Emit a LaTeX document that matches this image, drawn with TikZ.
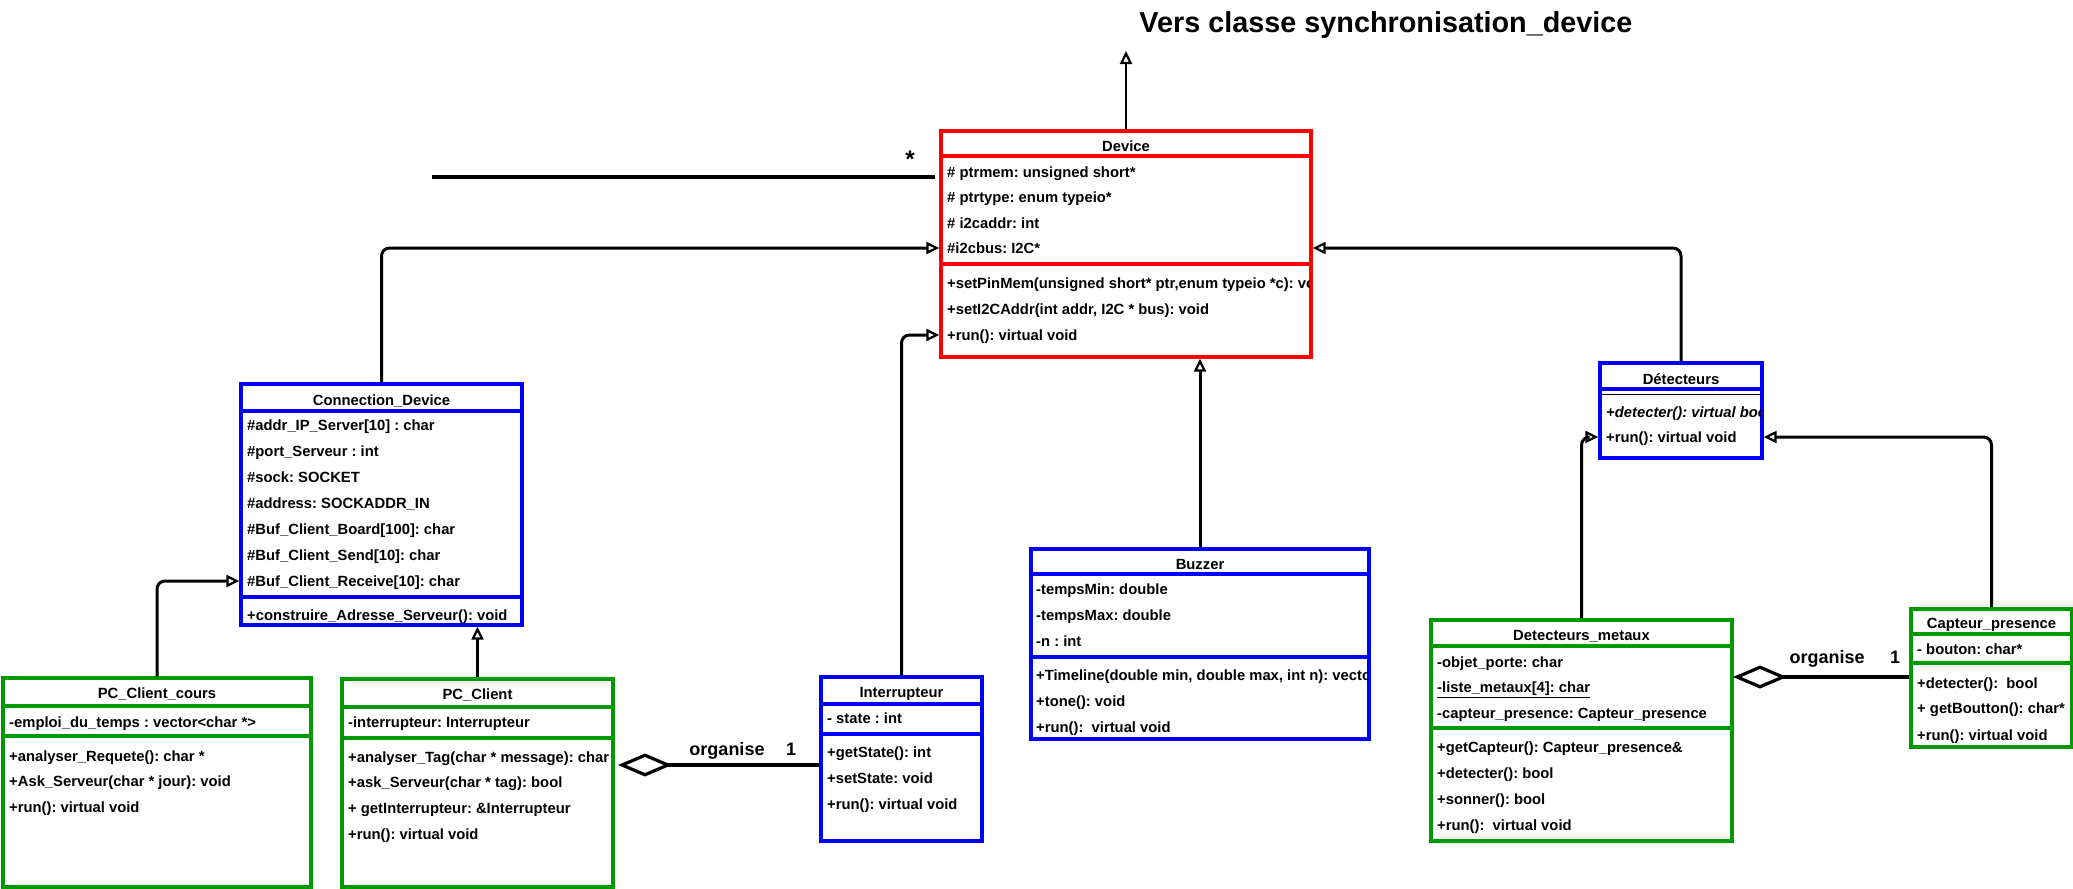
\documentclass[tikz,border=0pt]{standalone}
\usepackage{fontspec}
\setmainfont{Liberation Sans}
\usetikzlibrary{arrows.meta}
\definecolor{cred}{RGB}{255,0,0}
\definecolor{cblue}{RGB}{0,0,255}
\definecolor{cgreen}{RGB}{0,153,0}
\frenchspacing
\tikzset{
  clsbox/.style={draw=#1, line width=3.3pt, inner sep=0pt, fill=white},
  sepline/.style={draw=#1, line width=3.3pt},
  thinsep/.style={draw=black, line width=1pt},
  row/.style={anchor=west, inner sep=0pt, font=\fontsize{14.8}{16}\selectfont\bfseries, text height=10.6pt, text depth=0pt},
  head/.style={anchor=center, inner sep=0pt, font=\fontsize{14.8}{16}\selectfont\bfseries, text height=10.6pt, text depth=0pt},
  inh/.style={draw=black, line width=3pt, rounded corners=8pt, -{Triangle[open, length=13pt, width=12pt, line width=2.2pt]}},
  agg/.style={draw=black, line width=3.2pt, {Diamond[open, length=54pt, width=23pt, line width=3.2pt]}-},
  assoc/.style={draw=black, line width=3.2pt},
  lbl/.style={inner sep=0pt, anchor=base, font=\fontsize{18}{20}\selectfont\bfseries},
  titlestyle/.style={inner sep=0pt, font=\fontsize{28.8}{32}\selectfont\bfseries, text height=20.6pt, text depth=0pt},
}
\begin{document}
\begin{tikzpicture}[x=1pt,y=-1pt]
\useasboundingbox (0,0) rectangle (2073,889);
\fill[white] (0,0) rectangle (2073,889);

% title
\node[titlestyle] (title) at (1386,22) {Vers classe synchronisation\_device};

% ---------- Device ----------
\node[clsbox=cred, minimum width=370pt, minimum height=226pt] (device) at (1126,244) {};
\draw[sepline=cred] (941,156) -- (1311,156);
\draw[sepline=cred] (941,264) -- (1311,264);
\node[head] (devh) at (1126,146) {Device};
\node[row] (deva1) at (947,172) {\# ptrmem: unsigned short*};
\node[row] (deva2) at (947,197) {\# ptrtype: enum typeio*};
\node[row] (deva3) at (947,223) {\# i2caddr: int};
\node[row] (deva4) at (947,248) {\#i2cbus: I2C*};
\begin{scope}
\clip (941,266) rectangle (1309.3,300);
\node[row] (devm1) at (947,283) {+setPinMem(unsigned short* ptr,enum typeio *c): void};
\end{scope}
\node[row] (devm2) at (947,309) {+setI2CAddr(int addr, I2C * bus): void};
\node[row] (devm3) at (947,335) {+run(): virtual void};

% ---------- Connection_Device ----------
\node[clsbox=cblue, minimum width=281pt, minimum height=241pt] (conn) at (381.5,504.5) {};
\draw[sepline=cblue] (241,411) -- (522,411);
\draw[sepline=cblue] (241,597) -- (522,597);
\node[head] (connh) at (381.5,400) {Connection\_Device};
\node[row] (conna1) at (247,425) {\#addr\_IP\_Server[10] : char};
\node[row] (conna2) at (247,451) {\#port\_Serveur : int};
\node[row] (conna3) at (247,477) {\#sock: SOCKET};
\node[row] (conna4) at (247,503) {\#address: SOCKADDR\_IN};
\node[row] (conna5) at (247,529) {\#Buf\_Client\_Board[100]: char};
\node[row] (conna6) at (247,555) {\#Buf\_Client\_Send[10]: char};
\node[row] (conna7) at (247,581) {\#Buf\_Client\_Receive[10]: char};
\node[row] (connm1) at (247,615) {+construire\_Adresse\_Serveur(): void};

% ---------- PC_Client_cours ----------
\node[clsbox=cgreen, minimum width=308pt, minimum height=209pt] (pccours) at (157,782.5) {};
\draw[sepline=cgreen] (3,706) -- (311,706);
\draw[sepline=cgreen] (3,736) -- (311,736);
\node[head] (pccoursh) at (157,693) {PC\_Client\_cours};
\node[row] (pccoursa1) at (9,722) {-emploi\_du\_temps : vector<char *>};
\node[row] (pccoursm1) at (9,756) {+analyser\_Requete(): char *};
\node[row] (pccoursm2) at (9,781) {+Ask\_Serveur(char * jour): void};
\node[row] (pccoursm3) at (9,807) {+run(): virtual void};

% ---------- PC_Client ----------
\node[clsbox=cgreen, minimum width=271pt, minimum height=208pt] (pcclient) at (477.5,783) {};
\draw[sepline=cgreen] (342,707) -- (613,707);
\draw[sepline=cgreen] (342,738) -- (613,738);
\node[head] (pcclienth) at (477.5,694) {PC\_Client};
\node[row] (pcclienta1) at (348,722) {-interrupteur: Interrupteur};
\node[row] (pcclientm1) at (348,757) {+analyser\_Tag(char * message): char};
\node[row] (pcclientm2) at (348,782) {+ask\_Serveur(char * tag): bool};
\node[row] (pcclientm3) at (348,808) {+ getInterrupteur: \&Interrupteur};
\node[row] (pcclientm4) at (348,834) {+run(): virtual void};

% ---------- Interrupteur ----------
\node[clsbox=cblue, minimum width=161pt, minimum height=164pt] (intr) at (901.5,759) {};
\draw[sepline=cblue] (821,704) -- (982,704);
\draw[sepline=cblue] (821,734) -- (982,734);
\node[head] (intrh) at (901.5,692) {Interrupteur};
\node[row] (intra1) at (827,718) {- state : int};
\node[row] (intrm1) at (827,752) {+getState(): int};
\node[row] (intrm2) at (827,778) {+setState: void};
\node[row] (intrm3) at (827,804) {+run(): virtual void};

% ---------- Buzzer ----------
\node[clsbox=cblue, minimum width=338pt, minimum height=190pt] (buzzer) at (1200,644) {};
\draw[sepline=cblue] (1031,574) -- (1369,574);
\draw[sepline=cblue] (1031,657) -- (1369,657);
\node[head] (buzzerh) at (1200,564) {Buzzer};
\node[row] (buzzera1) at (1036,589) {-tempsMin: double};
\node[row] (buzzera2) at (1036,615) {-tempsMax: double};
\node[row] (buzzera3) at (1036,641) {-n : int};
\begin{scope}
\clip (1031,660) rectangle (1367.3,690);
\node[row] (buzzerm1) at (1036,675) {+Timeline(double min, double max, int n): vector};
\end{scope}
\node[row] (buzzerm2) at (1036,701) {+tone(): void};
\node[row] (buzzerm3) at (1036,727) {+run():\ \ virtual void};

% ---------- Detecteurs ----------
\node[clsbox=cblue, minimum width=162pt, minimum height=95pt] (detect) at (1681,410.5) {};
\draw[sepline=cblue] (1600,389) -- (1762,389);
\draw[thinsep] (1602,394.5) -- (1760,394.5);
\node[head] (detecth) at (1681,379) {Détecteurs};
\begin{scope}
\clip (1600,398) rectangle (1760.3,426);
\node[row, font=\fontsize{14.8}{16}\selectfont\bfseries\itshape] (detectm1) at (1606,412) {+detecter(): virtual bool};
\end{scope}
\node[row] (detectm2) at (1606,437) {+run(): virtual void};

% ---------- Detecteurs_metaux ----------
\node[clsbox=cgreen, minimum width=301pt, minimum height=221pt] (dmet) at (1581.5,730.5) {};
\draw[sepline=cgreen] (1431,646) -- (1732,646);
\draw[sepline=cgreen] (1431,728) -- (1732,728);
\node[head] (dmeth) at (1581.5,635) {Detecteurs\_metaux};
\node[row] (dmeta1) at (1437,662) {-objet\_porte: char};
\node[row] (dmeta2) at (1437,687) {\underline{-liste\_metaux[4]: char}};
\node[row] (dmeta3) at (1437,713) {-capteur\_presence: Capteur\_presence};
\node[row] (dmetm1) at (1437,747) {+getCapteur(): Capteur\_presence\&};
\node[row] (dmetm2) at (1437,773) {+detecter(): bool};
\node[row] (dmetm3) at (1437,799) {+sonner(): bool};
\node[row] (dmetm4) at (1437,825) {+run():\ \ virtual void};

% ---------- Capteur_presence ----------
\node[clsbox=cgreen, minimum width=161pt, minimum height=138pt] (capt) at (1991.5,678) {};
\draw[sepline=cgreen] (1911,634) -- (2072,634);
\draw[sepline=cgreen] (1911,663) -- (2072,663);
\node[head] (capth) at (1991.5,623) {Capteur\_presence};
\node[row] (capta1) at (1917,649) {- bouton: char*};
\node[row] (captm1) at (1917,683) {+detecter():\ \ bool};
\node[row] (captm2) at (1917,708) {+ getBoutton(): char*};
\node[row] (captm3) at (1917,735) {+run(): virtual void};

% ---------- connectors ----------
\coordinate (syncpt) at (1126,51);
\draw[inh, line width=2.4pt] (device.north) -- (syncpt);

\coordinate (assocL) at (432,177);
\coordinate (assocR) at (935,177);
\draw[assoc] (assocL) -- (assocR);
\node[lbl, font=\fontsize{24}{26}\selectfont\bfseries] (star) at (910,167) {*};

\draw[inh] (conn.north) |- (device.west |- deva4);
\draw[inh] (intr.north) |- (device.west |- devm3);
\draw[inh] (buzzer.north) -- (buzzer.north |- device.south);
\draw[inh] (detect.north) |- (device.east |- deva4);
\draw[inh] (dmet.north) |- (detect.west |- detectm2);
\draw[inh] (capt.north) |- (detect.east |- detectm2);
\draw[inh] (pccours.north) |- (conn.west |- conna7);
\draw[inh] (pcclient.north) -- (pcclient.north |- conn.south);

\coordinate (agg1) at (618,765);
\draw[agg] (agg1) -- (intr.west |- agg1);
\node[lbl] (org1) at (727,755) {organise};
\node[lbl] (one1) at (791,755) {1};

\coordinate (agg2) at (1733,677);
\draw[agg] (agg2) -- (capt.west |- agg2);
\node[lbl] (org2) at (1827,663) {organise};
\node[lbl] (one2) at (1895,663) {1};
\end{tikzpicture}
\end{document}
